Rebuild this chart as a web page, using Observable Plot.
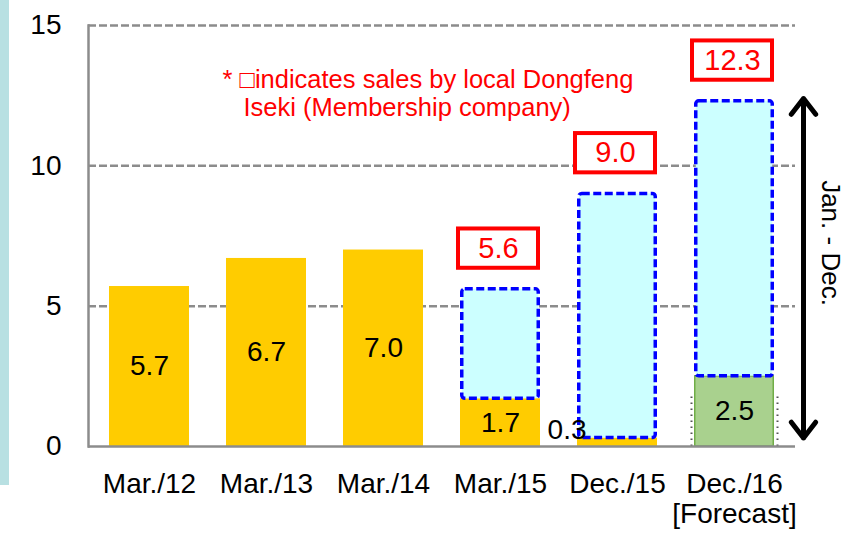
<!DOCTYPE html>
<html><head><meta charset="utf-8">
<script src="https://cdn.jsdelivr.net/npm/d3@7"></script>
<script src="https://cdn.jsdelivr.net/npm/@observablehq/plot@0.6"></script>
<style>
html,body{margin:0;padding:0;background:#fff;}
#wrap{position:relative;width:847px;height:533px;background:#fff;overflow:hidden;}
#chart{position:absolute;left:0;top:0;}
#strip{position:absolute;left:0;top:0;width:9px;height:485px;background:#b8e0e2;}
</style></head>
<body><div id="wrap"><div id="chart"></div><div id="strip"></div></div>
<script>
// ---- data ----
const categories = ["Mar./12","Mar./13","Mar./14","Mar./15","Dec./15","Dec./16"];
const localValues = [5.7, 6.7, 7.0, 1.7, 0.3, 2.5];       // sales excluding Dongfeng Iseki
const totalValues = [null, null, null, 5.6, 9.0, 12.3];   // incl. Dongfeng Iseki (Jan.-Dec.)
const barKinds = ["actual","actual","actual","actual","actual","forecast"];
const xTickLabels = ["Mar./12","Mar./13","Mar./14","Mar./15","Dec./15","Dec./16\n[Forecast]"];
const yTicks = [0, 5, 10, 15];
const gridValues = [5, 10, 15];
const noteLines = ["* \u25A1indicates sales by local Dongfeng", "Iseki (Membership company)"];
const rangeLabel = "Jan. - Dec.";
const rangeExtent = [0.3, 12.4];

// ---- derived tables ----
const rows = categories.map((c, i) => ({cat: c, local: localValues[i], total: totalValues[i], kind: barKinds[i]}));
const yellowRows = rows.filter(d => d.kind === "actual");
const greenRows = rows.filter(d => d.kind === "forecast");
const boxRows = rows.filter(d => d.total != null);
const insideLabels = rows.filter(d => d.local >= 1);
const outsideLabels = rows.filter(d => d.local < 1);
const tickMap = new Map(categories.map((c, i) => [c, xTickLabels[i]]));
const rangeMid = (rangeExtent[0] + rangeExtent[1]) / 2;
const fmt = d3.format(".1f");

const FONT = "'Liberation Sans', Arial, sans-serif";

const chart = Plot.plot({
  width: 847,
  height: 533,
  marginLeft: 88,
  marginRight: 52,
  marginTop: 25,
  marginBottom: 87,
  style: {fontFamily: FONT, fontSize: "28px", background: "transparent", overflow: "visible", color: "#000"},
  x: {domain: categories, paddingInner: 0.32, paddingOuter: 0.16, axis: null},
  y: {domain: [0, 15], axis: null},
  marks: [
    Plot.ruleY(gridValues, {stroke: "#8c8c8c", strokeWidth: 2.5, strokeDasharray: "8,3"}),
    Plot.barY(yellowRows, {x: "cat", y1: 0, y2: "local", fill: "#ffcc00"}),
    Plot.barY(greenRows, {x: "cat", y1: 0, y2: "local", fill: "#a9d18e", stroke: "#70ad47", strokeWidth: 1.5, insetLeft: 0.75, insetRight: 0.75}),
    Plot.ruleX(greenRows, {x: "cat", y1: 0, y2: d => d.local - 0.6, dx: -43, stroke: "#555", strokeWidth: 2, strokeDasharray: "1.5,4.5"}),
    Plot.ruleX(greenRows, {x: "cat", y1: 0, y2: d => d.local - 0.6, dx: 43, stroke: "#555", strokeWidth: 2, strokeDasharray: "1.5,4.5"}),
    Plot.barY(boxRows, {x: "cat", y1: "local", y2: "total", fill: "#ccffff", stroke: "#0000ff", strokeWidth: 3.5, strokeDasharray: "8,3.5", insetLeft: 1.75, insetRight: 1.75, rx: 3}),
    Plot.ruleY([0], {stroke: "#8c8c8c", strokeWidth: 2.5}),
    Plot.frame({anchor: "left", stroke: "#8c8c8c", strokeWidth: 2.5}),
    Plot.axisY(yTicks, {tickSize: 0, tickPadding: 27, fontSize: 28, label: null, tickFormat: d => String(d)}),
    Plot.axisX({tickSize: 0, tickPadding: 25, fontSize: 28, label: null, lineHeight: 1.07, tickFormat: d => tickMap.get(d)}),
    Plot.text(insideLabels, {x: "cat", y: d => d.local / 2, text: d => fmt(d.local), fontSize: 28, fill: "#000"}),
    Plot.text(outsideLabels, {x: "cat", y: d => d.local + 0.3, text: d => fmt(d.local), fontSize: 28, fill: "#000", textAnchor: "end", dx: -31}),
    Plot.barY(boxRows, {x: "cat", y1: d => d.total + 0.75, y2: d => d.total + 2.15, fill: "#fff", stroke: "#ff0000", strokeWidth: 4, dx: -2}),
    Plot.text(boxRows, {x: "cat", y: d => d.total + 1.45, text: d => fmt(d.total), fontSize: 29, fill: "#ff0000", dx: -2}),
    Plot.arrow(greenRows, {x1: "cat", x2: "cat", y1: rangeMid, y2: rangeExtent[1], dx: 69, stroke: "#000", strokeWidth: 5, headLength: 6, headAngle: 75}),
    Plot.arrow(greenRows, {x1: "cat", x2: "cat", y1: rangeMid, y2: rangeExtent[0], dx: 69, stroke: "#000", strokeWidth: 5, headLength: 6, headAngle: 75}),
    Plot.text(greenRows, {x: "cat", y: 7.25, text: () => rangeLabel, rotate: 90, dx: 96, fontSize: 26, fill: "#000"}),
    Plot.text([noteLines[0]], {frameAnchor: "top-left", text: d => d, textAnchor: "start", dx: 134, dy: 44, fontSize: 25.5, fill: "#ff0000"}),
    Plot.text([noteLines[1]], {frameAnchor: "top-left", text: d => d, textAnchor: "start", dx: 155, dy: 72, fontSize: 25.5, fill: "#ff0000"})
  ]
});
document.getElementById("chart").appendChild(chart);
</script>
</body></html>
